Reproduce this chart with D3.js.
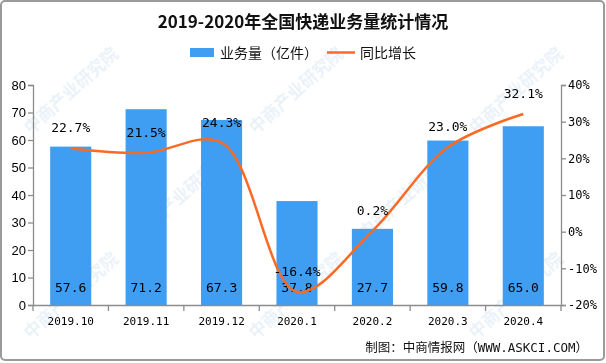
<!DOCTYPE html>
<html>
<head>
<meta charset="utf-8">
<script src="https://cdn.jsdelivr.net/npm/d3@7"></script>
<style>
  body { margin: 0; background: #fff; }
  svg { display: block; }
</style>
</head>
<body>
<svg id="chart" width="606" height="363"></svg>
<script>
// data
var months = ["2019.10", "2019.11", "2019.12", "2020.1", "2020.2", "2020.3", "2020.4"];
var volume = [57.6, 71.2, 67.3, 37.8, 27.7, 59.8, 65.0];   // 亿件
var growth = [22.7, 21.5, 24.3, -16.4, 0.2, 23.0, 32.1];   // %
var leftTicks = [0, 10, 20, 30, 40, 50, 60, 70, 80];
var rightTicks = [-20, -10, 0, 10, 20, 30, 40];

var svg = d3.select("#chart"),
    W = +svg.attr("width"),
    H = +svg.attr("height");

var margin = {top: 85, right: 45, bottom: 58, left: 33};
var iw = W - margin.left - margin.right,
    ih = H - margin.top - margin.bottom;

var blue = "#409ef2", orange = "#fb6a22", axisCol = "#8c8c8c";
var mono = "'DejaVu Sans Mono', monospace";
var cjk = "'Noto Sans CJK SC', sans-serif";

svg.append("rect").attr("width", W).attr("height", H).attr("fill", "#fff");

// watermark, kept inside the frame
var wmSpots = [[75, 95], [300, 95], [520, 95], [185, 200], [410, 200], [75, 300], [300, 300], [520, 300]];
svg.append("g").attr("fill", "#c9ddef").attr("opacity", 0.4)
    .style("font-family", cjk).style("font-weight", "bold").style("font-size", "17px")
  .selectAll("text").data(wmSpots).enter().append("text")
    .attr("text-anchor", "middle")
    .attr("transform", function(d) { return "translate(" + d[0] + "," + d[1] + ") rotate(-42)"; })
    .text("中商产业研究院");

// frame
svg.append("rect").attr("x", 1).attr("y", 1).attr("width", W - 3).attr("height", H - 4)
  .attr("rx", 4).attr("fill", "none").attr("stroke", "#9a9a9a").attr("stroke-width", 2);

var g = svg.append("g").attr("transform", "translate(" + margin.left + "," + margin.top + ")");

var x = d3.scaleBand().domain(months).range([0, iw]).paddingInner(0.455).paddingOuter(0.2275);
var xb = d3.scaleBand().domain(months).range([0, iw]);
var y = d3.scaleLinear().domain([0, 80]).range([ih, 0]);
var y2 = d3.scaleLinear().domain([-20, 40]).range([ih, 0]);

// bars
g.selectAll(".bar").data(volume).enter().append("rect")
  .attr("x", function(d, i) { return x(months[i]); })
  .attr("y", function(d) { return y(d); })
  .attr("width", x.bandwidth())
  .attr("height", function(d) { return ih - y(d); })
  .attr("fill", blue);

// bar values at the bottom
g.selectAll(".val").data(volume).enter().append("text")
  .attr("x", function(d, i) { return xb(months[i]) + xb.bandwidth() / 2; })
  .attr("y", ih - 13)
  .attr("text-anchor", "middle")
  .style("font-family", mono).style("font-size", "13px").attr("fill", "#000")
  .text(function(d) { return d.toFixed(1); });

// growth line
var line = d3.line()
  .x(function(d, i) { return xb(months[i]) + xb.bandwidth() / 2; })
  .y(function(d) { return y2(d); })
  .curve(d3.curveCatmullRom.alpha(0.5));

g.append("path").datum(growth)
  .attr("d", line)
  .attr("fill", "none").attr("stroke", orange).attr("stroke-width", 2.5);

g.selectAll(".pct").data(growth).enter().append("text")
  .attr("x", function(d, i) { return xb(months[i]) + xb.bandwidth() / 2; })
  .attr("y", function(d) { return y2(d) - 16; })
  .attr("text-anchor", "middle")
  .style("font-family", mono).style("font-size", "13px").attr("fill", "#000")
  .text(function(d) { return d.toFixed(1) + "%"; });

// axes
var yAxis = g.append("g")
  .call(d3.axisLeft(y).tickValues(leftTicks).tickSize(5).tickPadding(2));
yAxis.selectAll("text").style("font-family", "'Liberation Sans', Arial, sans-serif").style("font-size", "13px").attr("fill", "#000");

var y2Axis = g.append("g").attr("transform", "translate(" + iw + ",0)")
  .call(d3.axisRight(y2).tickValues(rightTicks).tickSize(5).tickPadding(2)
    .tickFormat(function(d) { return d + "%"; }));
y2Axis.selectAll("text").style("font-family", mono).style("font-size", "12px").attr("fill", "#000");

var xAxis = g.append("g").attr("transform", "translate(0," + ih + ")")
  .call(d3.axisBottom(xb).tickSize(0).tickPadding(12));
xAxis.selectAll("text").style("font-family", mono).style("font-size", "11px").attr("fill", "#000");
// separators between categories
xAxis.selectAll(".sep").data(d3.range(months.length + 1)).enter().append("line")
  .attr("x1", function(i) { return i * xb.step(); })
  .attr("x2", function(i) { return i * xb.step(); })
  .attr("y1", 0).attr("y2", 6);

[yAxis, y2Axis, xAxis].forEach(function(a) {
  a.selectAll("path, line").attr("stroke", axisCol).attr("stroke-width", 1.3);
});

// title
svg.append("text").attr("x", W / 2).attr("y", 28).attr("text-anchor", "middle")
  .style("font-family", cjk).style("font-weight", "bold").style("font-size", "17px")
  .attr("fill", "#111").text("2019-2020年全国快递业务量统计情况");

// legend
var lg = svg.append("g").style("font-family", cjk).style("font-size", "14px");
lg.append("rect").attr("x", 190).attr("y", 48).attr("width", 24).attr("height", 9).attr("fill", blue);
lg.append("text").attr("x", 220).attr("y", 58).attr("fill", "#111").text("业务量（亿件）");
lg.append("line").attr("x1", 327).attr("x2", 355).attr("y1", 52.5).attr("y2", 52.5)
  .attr("stroke", orange).attr("stroke-width", 2.5);
lg.append("text").attr("x", 360).attr("y", 58).attr("fill", "#111").text("同比增长");

// source
svg.append("text").attr("x", 588).attr("y", 352).attr("text-anchor", "end")
  .style("font-family", "'DejaVu Sans Mono', 'Noto Sans CJK SC', monospace").style("font-size", "12.5px")
  .attr("fill", "#111").text("制图：中商情报网（WWW.ASKCI.COM）");
</script>
</body>
</html>
